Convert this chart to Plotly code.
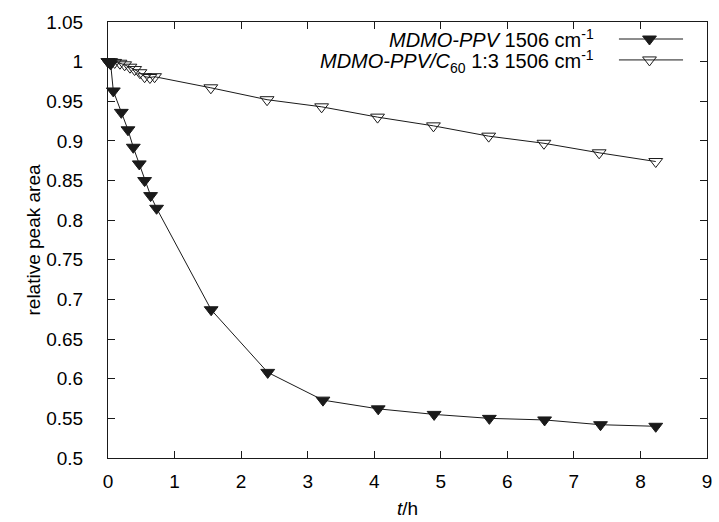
import plotly.graph_objects as go

# MDMO-PPV 1506 cm-1 (filled triangles)
t_ppv = [0.0, 0.02, 0.04, 0.08, 0.2, 0.3, 0.38, 0.47, 0.55, 0.64, 0.73,
         1.55, 2.40, 3.23, 4.06, 4.90, 5.73, 6.56, 7.40, 8.23]
a_ppv = [1.0, 0.999, 0.997, 0.963, 0.936, 0.914, 0.892, 0.871, 0.850, 0.831, 0.815,
         0.687, 0.608, 0.573, 0.562, 0.555, 0.550, 0.548, 0.542, 0.540]

# MDMO-PPV/C60 1:3 1506 cm-1 (open triangles)
t_c60 = [0.0, 0.04, 0.1, 0.18, 0.25, 0.33, 0.4, 0.48, 0.55, 0.63, 0.7,
         1.545, 2.39, 3.21, 4.05, 4.89, 5.72, 6.55, 7.38, 8.23]
a_c60 = [1.0, 1.0, 0.999, 0.998, 0.996, 0.993, 0.990, 0.986, 0.981, 0.980, 0.981,
         0.967, 0.952, 0.943, 0.930, 0.919, 0.906, 0.897, 0.885, 0.874]

legend_labels = ["<i>MDMO-PPV</i> 1506 cm<sup>-1</sup>",
                 "<i>MDMO-PPV/C</i><sub>60</sub> 1:3 1506 cm<sup>-1</sup>"]

FONT = "Liberation Sans, Arial, Helvetica, sans-serif"
INK = "#1a1a1a"

fig = go.Figure()

styles = [dict(symbol="triangle-down", color=INK, line=dict(color=INK, width=1)),
          dict(symbol="triangle-down-open", color=INK, line=dict(color=INK, width=1))]

for (t, a), mk in zip([(t_ppv, a_ppv), (t_c60, a_c60)], styles):
    fig.add_trace(go.Scatter(x=t, y=a, mode="lines+markers",
                             line=dict(color=INK, width=1),
                             marker=dict(size=12, **mk), showlegend=False,
                             cliponaxis=False))

# gnuplot-style key: text right-aligned, sample line + marker to its right
key_text_y = [0.962, 0.91]
key_line_y = [0.961, 0.913]
for lab, ty, ly, mk in zip(legend_labels, key_text_y, key_line_y, styles):
    fig.add_annotation(xref="paper", yref="paper", x=0.815, y=ty, text=lab,
                       xanchor="right", yanchor="middle", showarrow=False,
                       font=dict(family=FONT, size=20, color="black"))
    fig.add_trace(go.Scatter(x=[0.853, 0.96], y=[ly, ly], mode="lines",
                             line=dict(color=INK, width=1), xaxis="x2", yaxis="y2",
                             showlegend=False, hoverinfo="skip"))
    fig.add_trace(go.Scatter(x=[0.904], y=[ly], mode="markers",
                             marker=dict(size=12, **mk), xaxis="x2", yaxis="y2",
                             showlegend=False, hoverinfo="skip"))

axis_common = dict(showline=True, linecolor=INK, linewidth=1, mirror="allticks",
                   ticks="inside", ticklen=7, tickcolor=INK, showgrid=False,
                   zeroline=False, ticklabeloverflow="allow",
                   tickfont=dict(family=FONT, size=19, color="black"))

fig.update_xaxes(range=[0, 9], dtick=1, **axis_common, ticklabelstandoff=6,
                 title=dict(text="<i>t</i>/h", font=dict(family=FONT, size=19, color="black"),
                            standoff=10))
fig.update_yaxes(range=[0.5, 1.05], dtick=0.05, tickformat="~g", **axis_common,
                 ticklabelstandoff=20,
                 title=dict(text="relative peak area",
                            font=dict(family=FONT, size=19, color="black"), standoff=0))

fig.update_layout(
    xaxis2=dict(overlaying="x", range=[0, 1], visible=False),
    yaxis2=dict(overlaying="y", range=[0, 1], visible=False),
    width=719, height=522,
    margin=dict(l=108, r=7, t=22, b=61),
    paper_bgcolor="white", plot_bgcolor="white",
    showlegend=False,
)

fig.write_html("out.html", config={"displayModeBar": False},
               post_script="document.body.style.margin='0';")
